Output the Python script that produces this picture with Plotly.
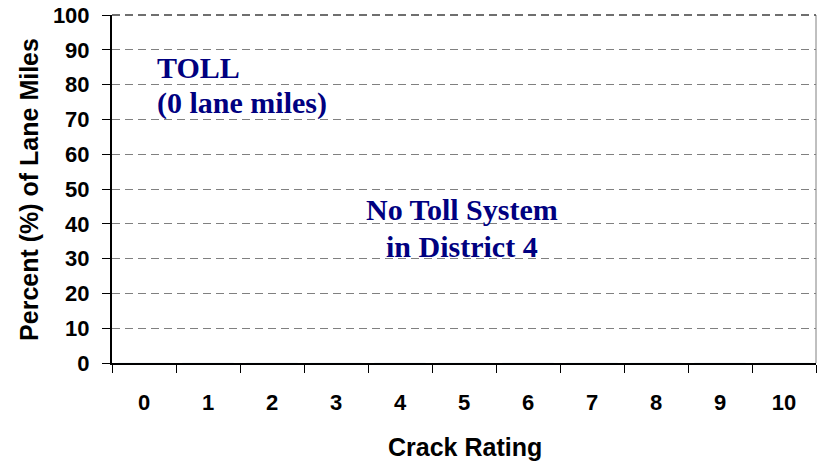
import plotly.graph_objects as go

categories = ["0", "1", "2", "3", "4", "5", "6", "7", "8", "9", "10"]
percent_values = [0, 0, 0, 0, 0, 0, 0, 0, 0, 0, 0]
y_ticks = [0, 10, 20, 30, 40, 50, 60, 70, 80, 90, 100]

fig = go.Figure()
fig.add_trace(go.Bar(x=categories, y=percent_values, marker_color="#000080", showlegend=False))

tick_font = dict(family="Liberation Sans, Arial", size=22, color="black")
title_font = dict(family="Liberation Sans, Arial", size=25, color="black")
fig.update_layout(
    width=818, height=463,
    margin=dict(l=112, r=2, t=15, b=100, autoexpand=False),
    paper_bgcolor="white", plot_bgcolor="white",
    xaxis=dict(
        type="category", tickson="boundaries", ticks="outside", ticklen=8, tickwidth=1,
        tickcolor="black", showline=True, linecolor="black", linewidth=2, automargin=False,
        showgrid=False, tickfont=tick_font, ticklabelstandoff=19,
        tickvals=categories, ticktext=[f"<b>{c}</b>" for c in categories],
    ),
    yaxis=dict(
        range=[0, 100], tickvals=y_ticks, ticktext=[f"<b>{v}</b>" for v in y_ticks],
        ticks="outside", ticklen=8, tickcolor="black", showline=True, linecolor="black",
        linewidth=2, showgrid=True, gridcolor="#808080", griddash="8px,5px", gridwidth=1,
        zeroline=False, tickfont=tick_font, ticklabelstandoff=8, ticklabeloverflow="allow",
        automargin=False,
    ),
)

fig.add_annotation(xref="paper", yref="paper", x=0.501, y=-0.241, xanchor="center", yanchor="middle",
                   text="<b>Crack Rating</b>", showarrow=False, font=title_font)
fig.add_annotation(xref="paper", yref="paper", x=-0.118, y=0.5, xanchor="center", yanchor="middle",
                   text="<b>Percent (%) of Lane Miles</b>", showarrow=False, font=title_font,
                   textangle=-90)

fig.add_shape(type="line", xref="paper", yref="paper", x0=1, x1=1, y0=0, y1=1,
              line=dict(color="#808080", width=1))
fig.add_shape(type="line", xref="paper", yref="paper", x0=0, x1=1, y0=1, y1=1,
              line=dict(color="#404040", width=1.5, dash="8px,5px"))

ann_font = dict(family="Liberation Serif, Times New Roman", size=30, color="#000080")
for txt, x, y, anchor in [
    ("TOLL", 0.061, 84.8, "left"),
    ("(0 lane miles)", 0.061, 74.7, "left"),
    ("No Toll System", 0.497, 44.0, "center"),
    ("in District 4", 0.497, 33.6, "center"),
]:
    fig.add_annotation(xref="paper", yref="y", x=x, y=y, xanchor=anchor, yanchor="middle",
                       text=f"<b>{txt}</b>", showarrow=False, font=ann_font)

fig.write_html("out.html", config={"displayModeBar": False},
               post_script="document.body.style.margin='0';document.body.style.overflow='hidden';")
